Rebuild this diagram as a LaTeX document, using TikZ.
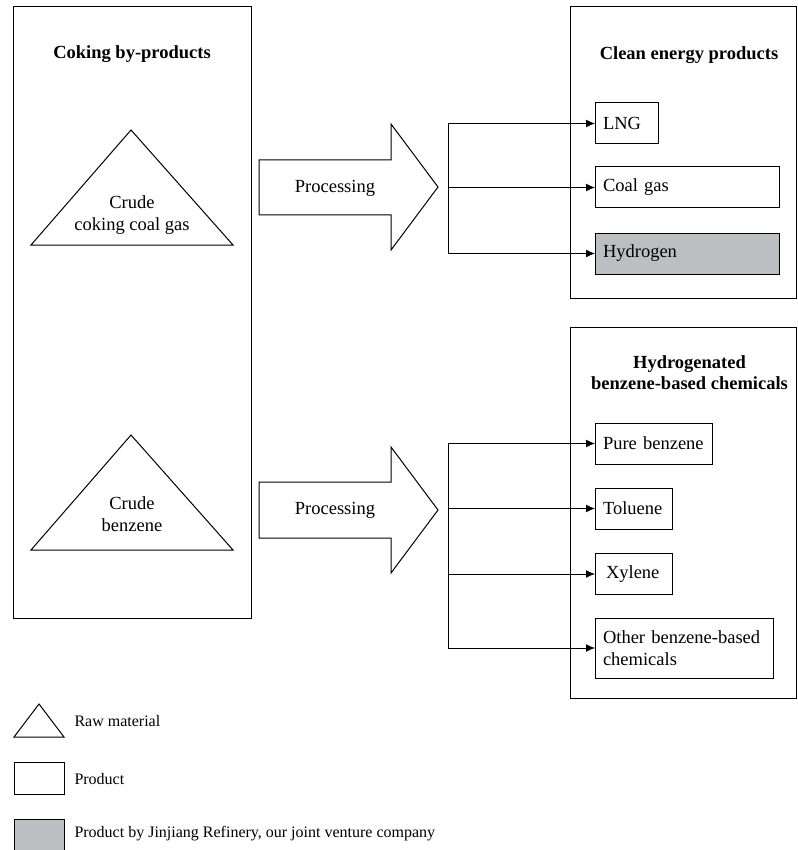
\documentclass[tikz,border=0pt]{standalone}
\usepackage{fontspec}
\setmainfont{Liberation Serif}
\usetikzlibrary{arrows.meta}
\definecolor{jvgray}{HTML}{BDBEC1}
\begin{document}
\begin{tikzpicture}[x=1pt,y=-1pt,line width=1pt,font=\fontsize{18.5}{22}\selectfont]
	\tikzstyle{group}=[draw,inner sep=0pt,outer sep=0pt]
	\tikzstyle{title}=[font=\fontsize{18.5}{21}\selectfont\bfseries,align=center]
	\tikzstyle{prod}=[draw,anchor=west,inner xsep=8pt,inner ysep=0pt,outer sep=0pt,minimum height=41pt,align=left]
	\tikzstyle{jv}=[prod,fill=jvgray]
	\tikzstyle{feed}=[-{Latex[length=9pt,width=8pt]}]
	\tikzstyle{legtext}=[anchor=west,inner xsep=0pt,font=\fontsize{16}{19}\selectfont]
	\useasboundingbox (0,0) rectangle (797,850);

	% raw materials
	\node[group,minimum width=238pt,minimum height=611pt] (byprod) at (132,312.5) {};
	\node[title] (byprodtitle) at (132,54.5) {Coking by-products};
	\draw (31,245) -- (131,130) -- (233,245) -- cycle;
	\node[align=center] (gas) at (132,215) {Crude\\coking coal gas};
	\draw (31,550) -- (131,435) -- (233,550) -- cycle;
	\node[align=center] (benz) at (132,514) {Crude\\benzene};

	% processing
	\draw (259,160) -- (391,160) -- (391,124) -- (438,187) -- (391,250) -- (391,215) -- (259,215) -- cycle;
	\node (proc1) at (335,188) {Processing};
	\draw (259,482) -- (391,482) -- (391,447) -- (438,510) -- (391,573) -- (391,538) -- (259,538) -- cycle;
	\node (proc2) at (335,510) {Processing};
	\coordinate (split1) at (448,187);
	\coordinate (split2) at (448,510);

	% clean energy products
	\node[group,minimum width=226pt,minimum height=291pt] (clean) at (683,152.5) {};
	\node[title] (cleantitle) at (689,55) {Clean energy products};
	\node[prod,text width=47pt] (lng) at (595,123.5) {LNG};
	\node[prod,text width=168pt] (coalgas) at (595,187.5) {Coal gas};
	\node[jv,text width=168pt] (hydrogen) at (595,253.5) {Hydrogen};
	\draw (split1 |- lng.west) -- (split1 |- hydrogen.west);
	\draw[feed] (split1 |- lng.west) -- (lng.west);
	\draw[feed] (split1 |- coalgas.west) -- (coalgas.west);
	\draw[feed] (split1 |- hydrogen.west) -- (hydrogen.west);

	% benzene-based chemicals
	\node[group,minimum width=226pt,minimum height=371pt] (chem) at (683,512.5) {};
	\node[title] (chemtitle) at (689.5,373) {Hydrogenated\\benzene-based chemicals};
	\node[prod,text width=101pt] (pure) at (595,443.5) {Pure benzene};
	\node[prod,text width=61pt] (toluene) at (595,508.5) {Toluene};
	\node[prod,text width=61pt] (xylene) at (595,574) {\hspace{3pt}Xylene};
	\node[prod,text width=162pt,minimum height=60pt] (other) at (595,648) {Other benzene-based\\chemicals};
	\draw (split2 |- pure.west) -- (split2 |- other.west);
	\draw[feed] (split2 |- pure.west) -- (pure.west);
	\draw[feed] (split2 |- toluene.west) -- (toluene.west);
	\draw[feed] (split2 |- xylene.west) -- (xylene.west);
	\draw[feed] (split2 |- other.west) -- (other.west);

	% legend
	\draw (14,737) -- (39,704) -- (64,737) -- cycle;
	\node[legtext] (legraw) at (74,721) {Raw material};
	\node[group,minimum width=50pt,minimum height=32pt] (legprod) at (39,778) {};
	\node[legtext] (legprodtext) at (74,779) {Product};
	\node[group,fill=jvgray,minimum width=50pt,minimum height=32pt] (legjv) at (39,835) {};
	\node[legtext] (legjvtext) at (74,834) {Product by Jinjiang Refinery, our joint venture company};
\end{tikzpicture}
\end{document}
